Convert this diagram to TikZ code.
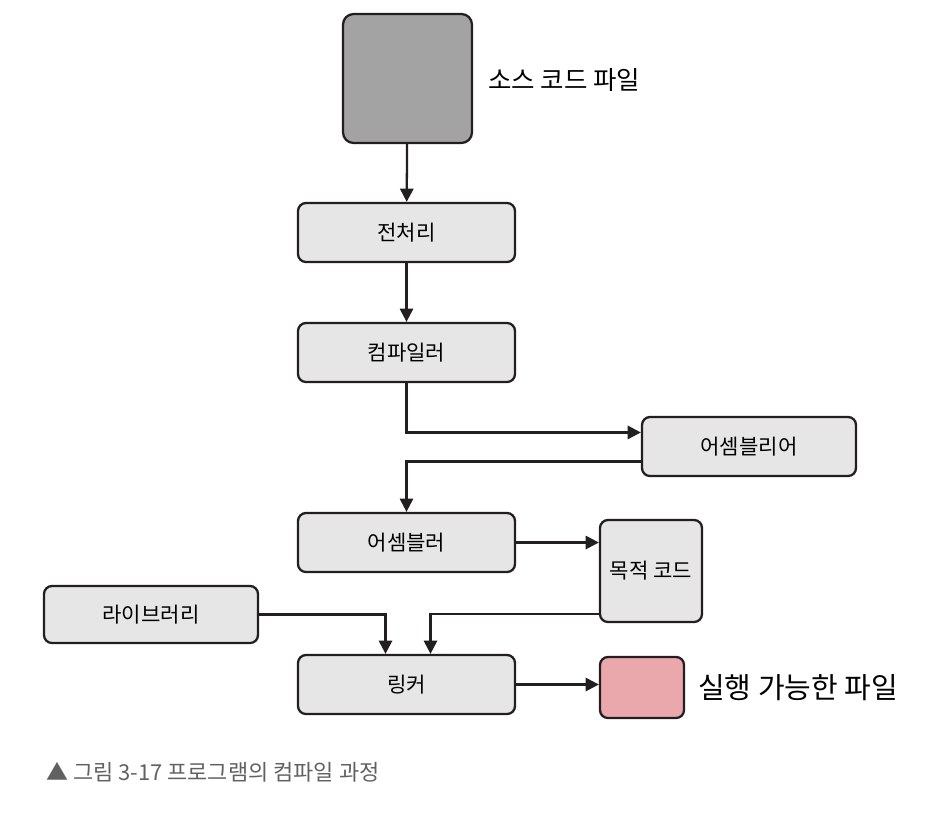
\documentclass[tikz,border=0pt]{standalone}
\usepackage{fontspec}
\setmainfont{Noto Sans CJK KR}
\usetikzlibrary{arrows.meta}
\definecolor{boxgray}{HTML}{E6E6E6}
\definecolor{srcgray}{HTML}{A3A3A3}
\definecolor{exepink}{HTML}{EBA8AC}
\definecolor{linecol}{HTML}{231F20}
\tikzset{
    stage/.style={draw=linecol, line width=1.3pt, fill=boxgray, rounded corners=4.5pt,
        minimum width=4.34cm, minimum height=1.18cm, inner sep=0pt,
        font=\fontsize{12}{14}\selectfont},
    flow/.style={line width=1.3pt, draw=linecol, -{Triangle[width=7.5pt,length=7.5pt]}},
    filelabel/.style={anchor=west, font=\fontsize{14.5}{17}\selectfont}
}

\begin{document}
\begin{tikzpicture}[x=0.02cm, y=-0.02cm]
    \useasboundingbox (0,0) rectangle (936,836);

    \node[stage, fill=srcgray, minimum width=2.58cm, minimum height=2.58cm, rounded corners=6pt] (SRC) at (407.5,78.5) {};
    \node[filelabel] (SRCLBL) at (482,80) {소스 코드 파일};

    \node[stage] (PRE) at (406.5,232.5) {전처리};
    \node[stage] (COMPILER) at (406.5,352.5) {컴파일러};
    \node[stage, minimum width=4.28cm] (ASMLANG) at (749,446.5) {어셈블리어};
    \node[stage] (ASSEMBLER) at (406.5,542.5) {어셈블러};
    \node[stage, minimum width=2.04cm, minimum height=2.04cm] (OBJ) at (651,571) {목적 코드};
    \node[stage, minimum width=4.28cm, minimum height=1.14cm] (LIB) at (151,614.5) {라이브러리};
    \node[stage] (LINKER) at (406.5,684.5) {링커};
    \node[stage, fill=exepink, minimum width=1.68cm, minimum height=1.22cm] (EXE) at (642,687.5) {};
    \node[filelabel, font=\fontsize{16.5}{19}\selectfont] (EXELBL) at (692,688) {실행 가능한 파일};

    \draw[flow] (SRC) -- (PRE);
    \draw[flow] (PRE) -- (COMPILER);
    \draw[flow] (COMPILER.south) |- ([yshift=8pt]ASMLANG.west);
    \draw[flow] ([yshift=-8.5pt]ASMLANG.west) -| (ASSEMBLER.north);
    \draw[flow] (ASSEMBLER.east) -- (ASSEMBLER.east -| OBJ.west);
    \draw[flow] (LIB.east) -| ([xshift=-0.42cm]LINKER.north);
    \draw[flow] ([yshift=-0.86cm]OBJ.west) -| ([xshift=0.48cm]LINKER.north);
    \draw[flow] (LINKER.east) -- (LINKER.east -| EXE.west);

    \node[anchor=west, text=black!62, font=\fontsize{12.5}{15}\selectfont] (CAPTION) at (40,772) {▲ 그림 3-17 프로그램의 컴파일 과정};
\end{tikzpicture}
\end{document}
